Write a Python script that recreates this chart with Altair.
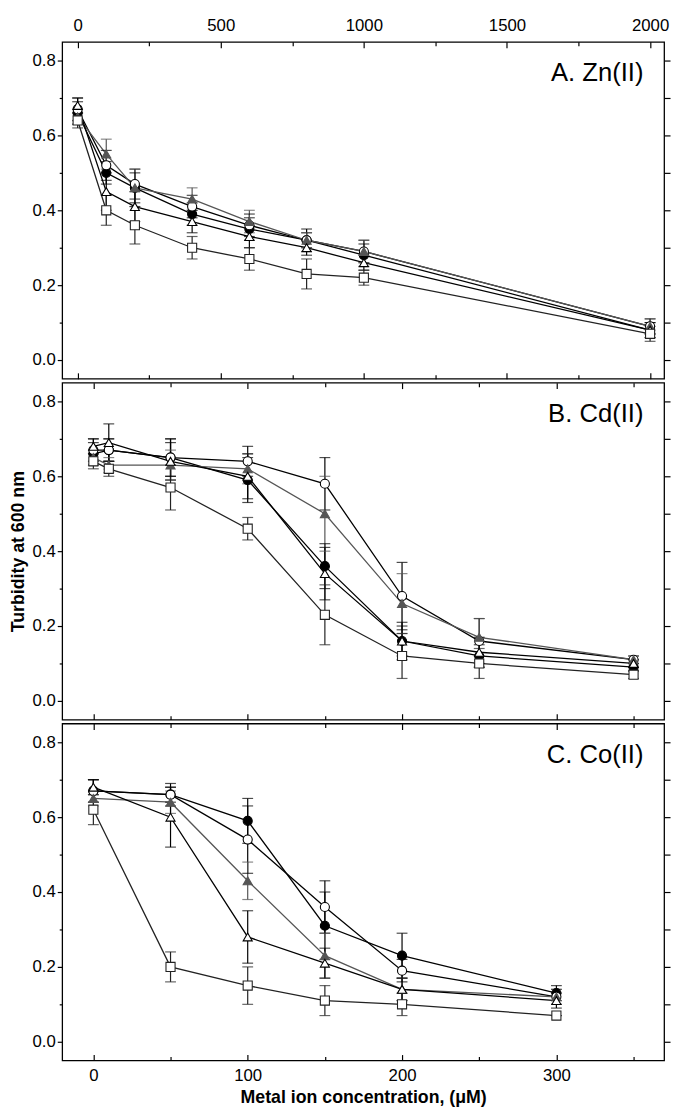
import altair as alt
import pandas as pd

# ---- series styling keys (no legend in the original) ----
SERIES = ["s1", "s2", "s3", "s4", "s5"]  # filled circle, open circle, filled triangle, open triangle, open square
STROKES = ["#000000", "#000000", "#555555", "#000000", "#222222"]
FILLS = ["#000000", "#ffffff", "#555555", "#ffffff", "#ffffff"]
SHAPES = ["circle", "circle", "triangle-up", "triangle-up", "square"]
SIZES = [85, 85, 100, 100, 90]

# ---- Panel A: Zn(II) ----
zn_x = [0, 100, 200, 400, 600, 800, 1000, 2000]
zn_s1 = [0.66, 0.50, 0.46, 0.39, 0.35, 0.32, 0.28, 0.08]
zn_s2 = [0.67, 0.52, 0.47, 0.41, 0.36, 0.32, 0.29, 0.09]
zn_s3 = [0.65, 0.55, 0.46, 0.43, 0.37, 0.32, 0.29, 0.09]
zn_s4 = [0.68, 0.45, 0.41, 0.37, 0.33, 0.30, 0.26, 0.08]
zn_s5 = [0.64, 0.40, 0.36, 0.30, 0.27, 0.23, 0.22, 0.07]
zn_e1 = [0.03, 0.03, 0.04, 0.03, 0.03, 0.03, 0.03, 0.02]
zn_e2 = [0.03, 0.04, 0.04, 0.03, 0.03, 0.02, 0.03, 0.02]
zn_e3 = [0.02, 0.04, 0.05, 0.03, 0.03, 0.02, 0.03, 0.02]
zn_e4 = [0.02, 0.05, 0.04, 0.03, 0.03, 0.02, 0.02, 0.02]
zn_e5 = [0.02, 0.04, 0.05, 0.03, 0.03, 0.04, 0.02, 0.02]

# ---- Panel B: Cd(II) ----
cd_x = [0, 10, 50, 100, 150, 200, 250, 350]
cd_s1 = [0.66, 0.67, 0.65, 0.59, 0.36, 0.16, 0.12, 0.09]
cd_s2 = [0.67, 0.67, 0.65, 0.64, 0.58, 0.28, 0.16, 0.11]
cd_s3 = [0.65, 0.63, 0.63, 0.62, 0.50, 0.26, 0.17, 0.11]
cd_s4 = [0.68, 0.69, 0.64, 0.60, 0.34, 0.16, 0.13, 0.10]
cd_s5 = [0.64, 0.62, 0.57, 0.46, 0.23, 0.12, 0.10, 0.07]
cd_e1 = [0.03, 0.03, 0.05, 0.06, 0.06, 0.04, 0.03, 0.01]
cd_e2 = [0.03, 0.03, 0.05, 0.04, 0.07, 0.09, 0.06, 0.01]
cd_e3 = [0.02, 0.02, 0.04, 0.04, 0.10, 0.08, 0.05, 0.01]
cd_e4 = [0.02, 0.05, 0.05, 0.06, 0.07, 0.05, 0.04, 0.01]
cd_e5 = [0.02, 0.02, 0.06, 0.03, 0.08, 0.06, 0.04, 0.01]

# ---- Panel C: Co(II) ----
co_x = [0, 50, 100, 150, 200, 300]
co_s1 = [0.67, 0.66, 0.59, 0.31, 0.23, 0.13]
co_s2 = [0.67, 0.66, 0.54, 0.36, 0.19, 0.12]
co_s3 = [0.65, 0.64, 0.43, 0.23, 0.14, 0.12]
co_s4 = [0.68, 0.60, 0.28, 0.21, 0.14, 0.11]
co_s5 = [0.62, 0.20, 0.15, 0.11, 0.10, 0.07]
co_e1 = [0.03, 0.03, 0.06, 0.09, 0.06, 0.02]
co_e2 = [0.03, 0.02, 0.09, 0.07, 0.03, 0.02]
co_e3 = [0.02, 0.03, 0.05, 0.06, 0.03, 0.02]
co_e4 = [0.02, 0.08, 0.07, 0.04, 0.03, 0.02]
co_e5 = [0.04, 0.04, 0.05, 0.04, 0.03, 0.00]

Y_MAJOR = [0.0, 0.2, 0.4, 0.6, 0.8]
Y_MINOR = [0.1, 0.3, 0.5, 0.7]
Y_ALL = [0.0, 0.1, 0.2, 0.3, 0.4, 0.5, 0.6, 0.7, 0.8]

ZN_MAJOR = [0, 500, 1000, 1500, 2000]
ZN_MINOR = [250, 750, 1250, 1750]
UM_MAJOR = [0, 100, 200, 300]
UM_MINOR = [50, 150, 250, 350]


def make_df(xs, ys_list, es_list):
    rows = []
    for name, ys, es in zip(SERIES, ys_list, es_list):
        for x, y, e in zip(xs, ys, es):
            rows.append({"x": x, "y": y, "lo": y - e, "hi": y + e, "s": name})
    return pd.DataFrame(rows)


def panel(df, xdom, xmaj, xmin, top_labels, bottom_labels, xtitle, ytitle, label):
    xs = alt.Scale(domain=xdom, nice=False, zero=False)
    ys = alt.Scale(domain=[-0.05, 0.85], nice=False, zero=False)
    stroke = alt.Stroke("s:N", scale=alt.Scale(domain=SERIES, range=STROKES), legend=None)
    color = alt.Color("s:N", scale=alt.Scale(domain=SERIES, range=STROKES), legend=None)
    fill = alt.Fill("s:N", scale=alt.Scale(domain=SERIES, range=FILLS), legend=None)
    shape = alt.Shape("s:N", scale=alt.Scale(domain=SERIES, range=SHAPES), legend=None)
    size = alt.Size("s:N", scale=alt.Scale(domain=SERIES, range=SIZES), legend=None)

    x_bot_major = alt.Axis(orient="bottom", values=xmaj, tickSize=6, offset=-6,
                           labels=bottom_labels, labelPadding=7, format="d", titlePadding=6)
    x_bot_minor = alt.Axis(orient="bottom", values=xmin, tickSize=4, offset=-4, labels=False)
    x_top_major = alt.Axis(orient="top", values=xmaj, tickSize=6, offset=-6,
                           labels=top_labels, labelPadding=7, format="d")
    x_top_minor = alt.Axis(orient="top", values=xmin, tickSize=4, offset=-4, labels=False)
    y_left_major = alt.Axis(orient="left", values=Y_MAJOR, tickSize=5, labelPadding=2,
                            format=".1f", titlePadding=5)
    y_left_minor = alt.Axis(orient="left", values=Y_MINOR, tickSize=3, labels=False)
    y_right = alt.Axis(orient="right", values=Y_ALL, tickSize=6, labels=False)

    base = alt.Chart(df)
    lines = base.mark_line(strokeWidth=1.3).encode(
        x=alt.X("x:Q", scale=xs, axis=x_bot_major, title=xtitle),
        y=alt.Y("y:Q", scale=ys, axis=y_left_major, title=ytitle),
        stroke=stroke,
    )
    rules = base.mark_rule(strokeWidth=1.2).encode(
        x=alt.X("x:Q", scale=xs, axis=x_bot_minor, title=None),
        y=alt.Y("lo:Q", scale=ys, axis=y_left_minor, title=None),
        y2="hi:Q",
        stroke=stroke,
    )
    caps_lo = base.mark_tick(orient="horizontal", size=11, thickness=1.2).encode(
        x=alt.X("x:Q", scale=xs, axis=x_top_major, title=None),
        y=alt.Y("lo:Q", scale=ys, axis=y_right, title=None),
        color=color,
    )
    caps_hi = base.mark_tick(orient="horizontal", size=11, thickness=1.2).encode(
        x=alt.X("x:Q", scale=xs, axis=x_top_minor, title=None),
        y=alt.Y("hi:Q", scale=ys, axis=None, title=None),
        color=color,
    )
    points = base.mark_point(filled=True, opacity=1, strokeWidth=1.1).encode(
        x=alt.X("x:Q", scale=xs, axis=None),
        y=alt.Y("y:Q", scale=ys, axis=None),
        shape=shape,
        fill=fill,
        stroke=stroke,
        size=size,
    )
    text = alt.Chart(pd.DataFrame({"t": [label]})).mark_text(
        align="right", baseline="middle", fontSize=26, font="Liberation Sans", color="black"
    ).encode(x=alt.value(590), y=alt.value(32), text="t:N")

    return alt.layer(lines, rules, caps_lo, caps_hi, points, text).resolve_axis(
        x="independent", y="independent"
    ).properties(width=611, height=342)


dfA = make_df(zn_x, [zn_s1, zn_s2, zn_s3, zn_s4, zn_s5], [zn_e1, zn_e2, zn_e3, zn_e4, zn_e5])
dfB = make_df(cd_x, [cd_s1, cd_s2, cd_s3, cd_s4, cd_s5], [cd_e1, cd_e2, cd_e3, cd_e4, cd_e5])
dfC = make_df(co_x, [co_s1, co_s2, co_s3, co_s4, co_s5], [co_e1, co_e2, co_e3, co_e4, co_e5])

pA = panel(dfA, [-54, 2049], ZN_MAJOR, ZN_MINOR, True, False, None, None, "A. Zn(II)")
pB = panel(dfB, [-20.2, 369.8], UM_MAJOR, UM_MINOR, False, False, None, "Turbidity at 600 nm", "B. Cd(II)")
pC = panel(dfC, [-20.2, 369.8], UM_MAJOR, UM_MINOR, False, True,
           "Metal ion concentration, (μM)", None, "C. Co(II)")

chart = alt.vconcat(pA, pB, pC, spacing=0).properties(padding=0).configure_view(
    stroke="black", strokeWidth=1.3
).configure_axis(
    grid=False, domain=False, tickColor="black", tickWidth=1.2,
    labelColor="black", labelFont="Liberation Sans", labelFontSize=17, labelFlush=False,
    titleFont="Liberation Sans", titleFontSize=18, titleFontWeight="bold", titleColor="black",
)

chart.save("out.html", embed_options={"renderer": "svg", "actions": False})
